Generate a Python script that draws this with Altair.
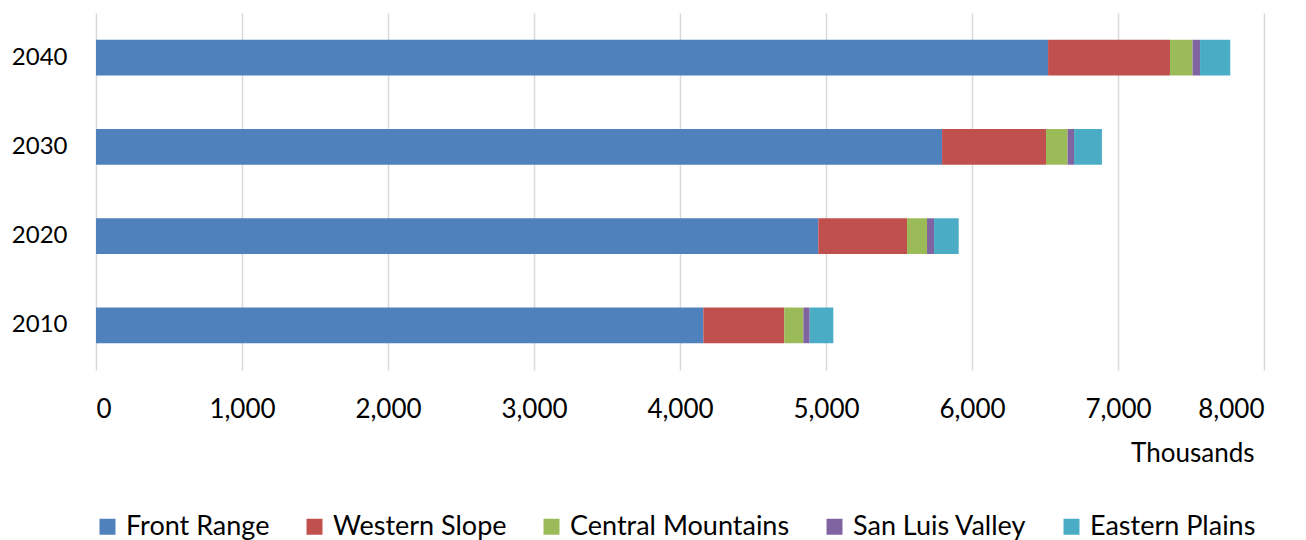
import altair as alt
import pandas as pd

years = ["2010", "2020", "2030", "2040"]
regions = ["Front Range", "Western Slope", "Central Mountains", "San Luis Valley", "Eastern Plains"]
colors = ["#4F81BD", "#C0504D", "#9BBB59", "#8064A2", "#4BACC6"]
front_range = [4160, 4947, 5795, 6521]
western_slope = [554, 608, 712, 835]
central_mountains = [131, 137, 148, 155]
san_luis_valley = [43, 48, 44, 51]
eastern_plains = [162, 169, 191, 207]
x_ticks = [0, 1000, 2000, 3000, 4000, 5000, 6000, 7000, 8000]

series = [front_range, western_slope, central_mountains, san_luis_valley, eastern_plains]
rows = []
for ri, (name, vals) in enumerate(zip(regions, series)):
    for y, v in zip(years, vals):
        rows.append({"Year": y, "Region": name, "Value": v, "order": ri})
df = pd.DataFrame(rows)

FONT = "Lato"

chart = alt.Chart(df).mark_bar().encode(
    y=alt.Y("Year:N", sort=years[::-1],
            scale=alt.Scale(paddingInner=0.6, paddingOuter=0.3),
            axis=alt.Axis(title=None, ticks=False, domain=False, labelPadding=29,
                          labelFontSize=24, labelFont=FONT, labelColor="#000000")),
    x=alt.X("Value:Q", stack="zero",
            scale=alt.Scale(domain=[0, 8000], nice=False),
            axis=alt.Axis(values=x_ticks, format=",.0f", ticks=False, domain=False,
                          labelPadding=26, labelFontSize=26, labelFont=FONT,
                          labelColor="#000000", grid=True, gridColor="#d9d9d9",
                          gridWidth=1.5, title="Thousands", titleFont=FONT,
                          titleFontSize=26, titleFontWeight="normal", titleColor="#000000",
                          titleAlign="right", titleAnchor="end", titleX=1158, titleY=91,
                          titleBaseline="alphabetic")),
    color=alt.Color("Region:N",
                    scale=alt.Scale(domain=regions, range=colors),
                    legend=alt.Legend(title=None, orient="none", direction="horizontal",
                                      legendX=-2, legendY=500, columns=5,
                                      symbolType="square", symbolSize=256,
                                      symbolStrokeWidth=0, labelFont=FONT,
                                      labelFontSize=27, labelColor="#000000",
                                      labelLimit=400,
                                      labelOffset=5, columnPadding=31, padding=0)),
    order=alt.Order("order:Q"),
).properties(
    width=1168, height=357,
    autosize=alt.AutoSizeParams(type="none"),
    padding={"left": 88, "top": 5, "right": 30, "bottom": 172},
).configure_view(stroke=None)

chart.save("out.html", embed_options={"renderer": "svg", "actions": False})
